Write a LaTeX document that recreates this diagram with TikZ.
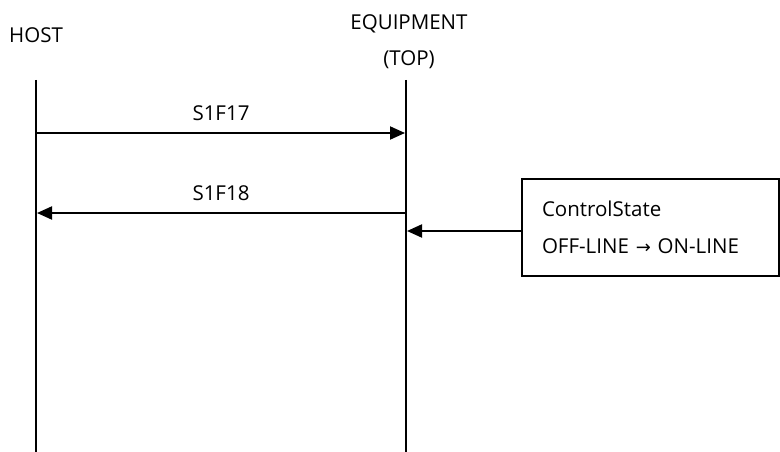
\documentclass[tikz,border=0pt]{standalone}
\usepackage{fontspec}
\setmainfont{Open Sans}
\newfontfamily\arrowfont{DejaVu Sans}
\usetikzlibrary{arrows.meta,positioning}

\begin{document}
\begin{tikzpicture}[x=1pt, y=-1pt,
    actor/.style={font=\fontsize{20.5}{24}\selectfont, inner sep=0pt, anchor=base},
    life/.style={line width=2pt},
    msg/.style={line width=2pt, -{Triangle[length=15pt,width=13pt]}},
    lbl/.style={font=\fontsize{20.5}{24}\selectfont, inner sep=0pt},
    statebox/.style={draw, line width=1.3pt, minimum width=257pt, minimum height=97pt, text width=217pt, align=left, inner xsep=20pt, inner ysep=0pt, font=\fontsize{20.5}{37}\selectfont}
]
\useasboundingbox (0,0) rectangle (780,452);
\node[actor] (host) at (36,43) {HOST};
\node[actor] (equip) at (409,30) {EQUIPMENT};
\node[actor] (equiptop) at (409,66) {(TOP)};
\coordinate (hosttop) at (36,80);
\coordinate (hostbot) at (36,452);
\coordinate (eqtop) at (406,80);
\coordinate (eqbot) at (406,452);
\draw[life] (hosttop) -- (hostbot);
\draw[life] (eqtop) -- (eqbot);
% messages
\coordinate (req) at (37,133);
\coordinate (reqend) at (405,133);
\coordinate (rsp) at (405,213);
\coordinate (rspend) at (37,213);
\draw[msg] (req) -- node[lbl, above=11pt] {S1F17} (reqend);
\draw[msg] (rsp) -- node[lbl, above=11pt] {S1F18} (rspend);
% state change
\node[statebox] (state) at (650.5,227.5) {ControlState\\OFF-LINE {\arrowfont\fontsize{18}{37}\selectfont →} ON-LINE};
\coordinate (eqin) at (407,231);
\draw[msg] (eqin -| state.west) -- (eqin);
\end{tikzpicture}
\end{document}
